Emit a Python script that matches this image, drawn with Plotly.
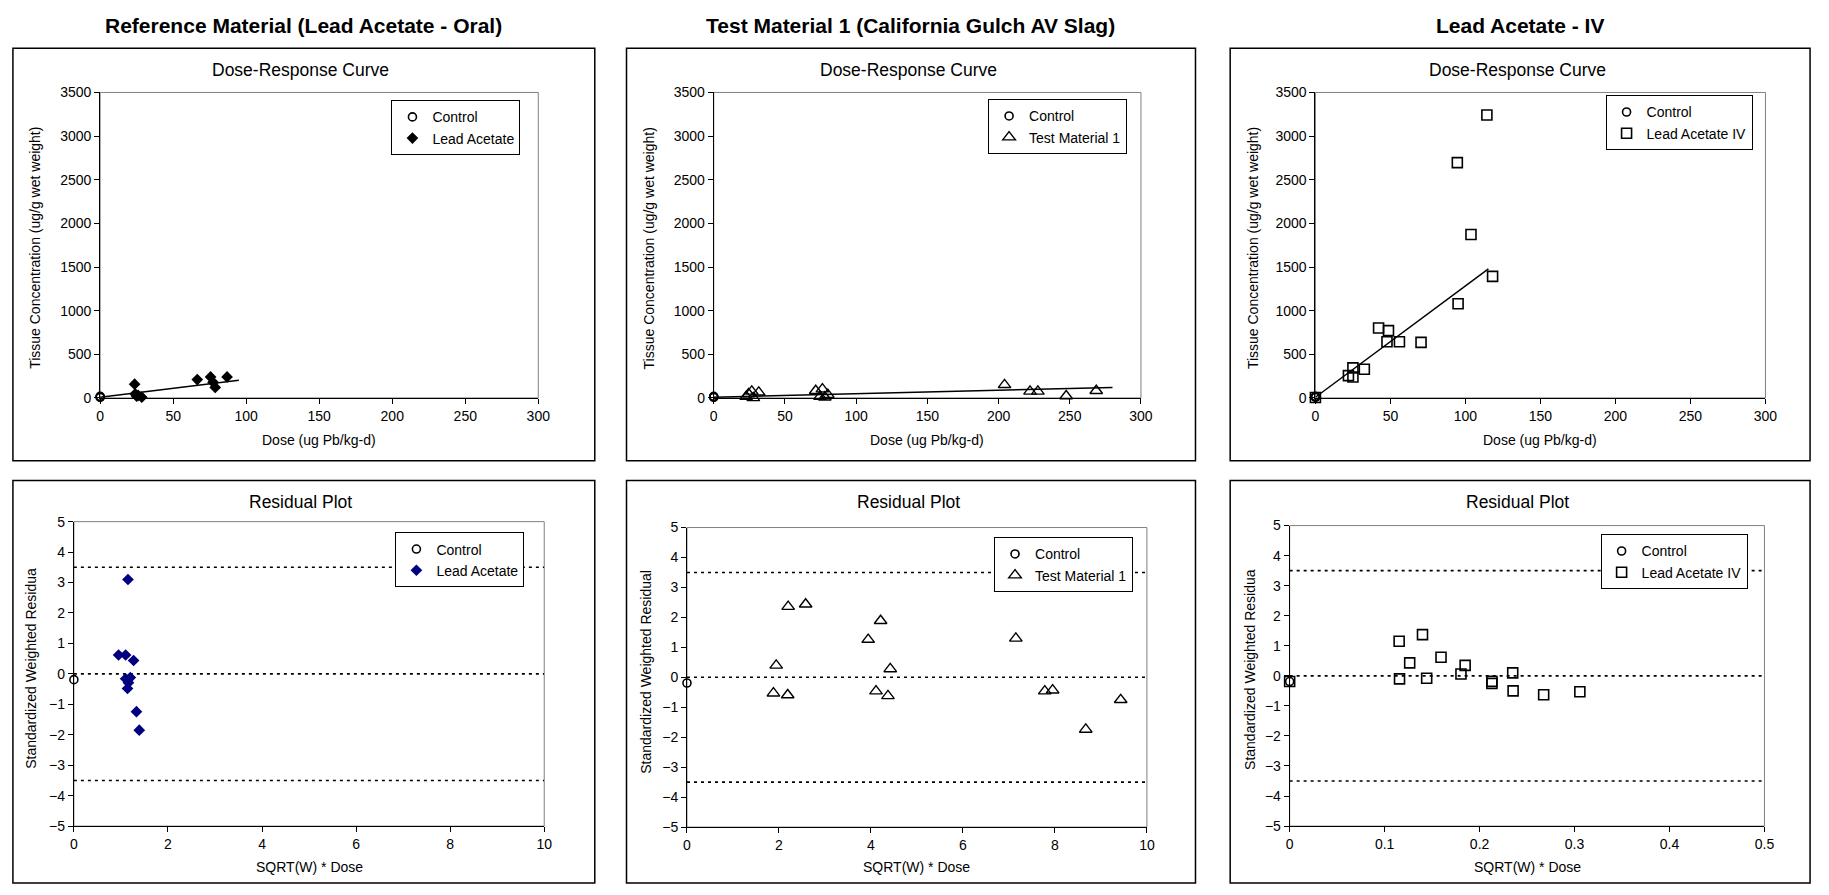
import plotly.graph_objects as go

W, H = 1829, 895
FONT = "Liberation Sans, Arial, sans-serif"

# ---------------- data ----------------
col_titles = ["Reference Material (Lead Acetate - Oral)",
              "Test Material 1 (California Gulch AV Slag)",
              "Lead Acetate - IV"]
series_names = ["Lead Acetate", "Test Material 1", "Lead Acetate IV"]

# Dose-response: controls
ctrl_dose = [0, 0, 0]
ctrl_conc = [5, 12, 18]

# Reference material (oral lead acetate)
oral_dose = [23.6, 24.0, 26.0, 28.5, 25.0, 66.5, 75.6, 77.3, 78.8, 86.9]
oral_conc = [157, 45, 30, 8, 20, 210, 240, 180, 120, 240]
oral_fit_x = [0, 95]
oral_fit_y = [8, 203]

# Test material 1
tm_dose = [22.8, 24.5, 26.7, 27.8, 31.6, 71.6, 74.6, 76.3, 78.0, 80.1,
           204.2, 222.1, 227.6, 247.5, 268.6]
tm_conc = [15, 45, 75, 0, 64, 82, 15, 101, 8, 37, 150, 75, 75, 22, 82]
tm_fit_x = [0, 280]
tm_fit_y = [7.5, 120]

# Lead acetate IV
iv_dose = [0, 22.0, 25.0, 25.0, 32.6, 42.1, 47.7, 48.7, 56.0, 70.4,
           94.6, 95.1, 103.7, 114.3, 118.1]
iv_conc = [5, 255, 240, 344, 329, 801, 644, 771, 644, 636,
           2696, 1078, 1872, 3242, 1393]
iv_fit_x = [0, 115.3]
iv_fit_y = [7.5, 1479]

# Residuals
ctrl_rx = [0]
ctrl_ry = [-0.19]
oral_rx = [1.15, 0.95, 1.10, 1.27, 1.10, 1.20, 1.16, 1.14, 1.33, 1.39]
oral_ry = [3.10, 0.62, 0.62, 0.44, -0.16, -0.12, -0.29, -0.48, -1.24, -1.85]
tm_rx = [2.20, 2.58, 4.21, 3.94, 7.15, 1.94, 4.42, 1.88, 2.19, 4.11,
         4.37, 7.78, 7.95, 8.67, 9.43]
tm_ry = [2.36, 2.44, 1.89, 1.26, 1.30, 0.40, 0.28, -0.53, -0.59, -0.46,
         -0.62, -0.46, -0.43, -1.74, -0.75]
iv_rx = [0, 0.1153, 0.1399, 0.1264, 0.1594, 0.1848, 0.1804, 0.1157, 0.1443,
         0.2349, 0.2130, 0.2130, 0.2353, 0.2675, 0.3056]
iv_ry = [-0.19, 1.15, 1.37, 0.43, 0.62, 0.35, 0.06, -0.10, -0.08,
         0.10, -0.18, -0.25, -0.50, -0.63, -0.53]
ref_levels = [3.5, 0, -3.5]

dose_range = [0, 300]
conc_range = [0, 3500]
resid_range = [-5, 5]
resid_x_ranges = [[0, 10], [0, 10], [0, 0.5]]
resid_x_dticks = [2, 2, 0.1]
resid_ytitles = ["Standardized Weighted Residua",
                 "Standardized Weighted Residual",
                 "Standardized Weighted Residua"]

# ---------------- layout geometry (window pixels) ----------------
top_areas = [(97, 539, 86, 397), (716, 1147, 86, 397), (1323, 1777, 86, 397)]
bot_areas = [(70.5, 545, 523, 833), (689, 1153, 529, 834), (1297, 1776, 527, 833)]
box_x = [(9, 596), (628, 1202), (1237, 1822)]
top_box_y = (41, 461)
bot_box_y = (481, 891)
top_legends = [(521, 94), (1133, 93), (1764, 89)]
bot_legends = [(525, 534), (1139, 539), (1759, 536)]
ytitle_x_top = [31, 651, 1260]
ytitle_x_bot = [27, 648, 1257]


def fx(p):
    return p / W


def fy(p):
    return 1 - p / H


fig = go.Figure()

marker_styles = [
    dict(symbol="diamond", size=9, color="black", line=dict(width=0)),
    dict(symbol="triangle-up-open", size=11, color="black", line=dict(width=1.4)),
    dict(symbol="square-open", size=10, color="black", line=dict(width=1.6)),
]
resid_marker_styles = [
    dict(symbol="diamond", size=9, color="#000080", line=dict(width=0)),
    dict(symbol="triangle-up-open", size=11, color="black", line=dict(width=1.4)),
    dict(symbol="square-open", size=10, color="black", line=dict(width=1.6)),
]
ctrl_marker = dict(symbol="circle-open", size=8, color="black", line=dict(width=1.6))

dr_data = [(oral_dose, oral_conc, oral_fit_x, oral_fit_y),
           (tm_dose, tm_conc, tm_fit_x, tm_fit_y),
           (iv_dose, iv_conc, iv_fit_x, iv_fit_y)]
rs_data = [(oral_rx, oral_ry), (tm_rx, tm_ry), (iv_rx, iv_ry)]


def axname(i):
    return ("x" if i == 1 else f"x{i}"), ("y" if i == 1 else f"y{i}")


def legname(i):
    return "legend" if i == 1 else f"legend{i}"


axis_common = dict(showgrid=False, zeroline=False, showline=True, linecolor="black",
                   linewidth=1, ticks="outside", ticklen=5, tickcolor="black",
                   tickwidth=1, tickfont=dict(family=FONT, size=14, color="black"),
                   fixedrange=True)

shapes = []
annotations = []
layout_axes = {}
legends = {}


def legend_box(lx, ly):
    return dict(x=fx(lx), y=fy(ly), xanchor="right", yanchor="top",
                bgcolor="white", bordercolor="black", borderwidth=1,
                font=dict(family=FONT, size=14, color="black"),
                itemwidth=30, tracegroupgap=0)


def text_ann(text, x, y, size, angle=0):
    return dict(text=text, x=fx(x), y=fy(y), xref="paper", yref="paper",
                showarrow=False, xanchor="center", yanchor="middle", textangle=angle,
                font=dict(family=FONT, size=size, color="black"))


for c in range(3):
    bx0, bx1 = box_x[c]
    # ---------- top: dose-response ----------
    i = c + 1
    xa, ya = axname(i)
    dx, dy, fxs, fys = dr_data[c]
    fig.add_trace(go.Scatter(x=fxs, y=fys, mode="lines", line=dict(color="black", width=1.5),
                             xaxis=xa, yaxis=ya, showlegend=False, hoverinfo="skip"))
    fig.add_trace(go.Scatter(x=ctrl_dose, y=ctrl_conc, mode="markers", marker=ctrl_marker,
                             name="Control", xaxis=xa, yaxis=ya, cliponaxis=False,
                             legend=legname(i)))
    fig.add_trace(go.Scatter(x=dx, y=dy, mode="markers", marker=marker_styles[c],
                             name=series_names[c], xaxis=xa, yaxis=ya, cliponaxis=False,
                             legend=legname(i)))
    x0, x1, y0, y1 = top_areas[c]
    layout_axes["xaxis" + ("" if i == 1 else str(i))] = dict(
        axis_common, domain=[fx(x0), fx(x1)], range=dose_range, anchor=ya,
        tickmode="linear", tick0=0, dtick=50)
    layout_axes["yaxis" + ("" if i == 1 else str(i))] = dict(
        axis_common, domain=[fy(y1), fy(y0)], range=conc_range, anchor=xa,
        tickmode="linear", tick0=0, dtick=500)
    shapes.append(dict(type="rect", xref="paper", yref="paper", x0=fx(x0), x1=fx(x1),
                       y0=fy(y1), y1=fy(y0), line=dict(color="#808080", width=1),
                       layer="below"))
    legends[legname(i)] = legend_box(*top_legends[c])
    annotations.append(text_ann("Dose-Response Curve", (bx0 + bx1) / 2 - 3, 63, 17.5))
    annotations.append(text_ann("Dose (ug Pb/kg-d)", (x0 + x1) / 2, 440, 14))
    annotations.append(text_ann("Tissue Concentration (ug/g wet weight)",
                                ytitle_x_top[c], (y0 + y1) / 2 + 3, 14, -90))
    annotations.append(text_ann("<b>" + col_titles[c] + "</b>", (bx0 + bx1) / 2, 18, 21))
    shapes.append(dict(type="rect", xref="paper", yref="paper",
                       x0=fx(bx0), x1=fx(bx1), y0=fy(top_box_y[1]), y1=fy(top_box_y[0]),
                       line=dict(color="black", width=1.5)))

    # ---------- bottom: residual ----------
    i = c + 4
    xa, ya = axname(i)
    rx, ry = rs_data[c]
    xr = resid_x_ranges[c]
    for lvl in ref_levels:
        fig.add_trace(go.Scatter(x=xr, y=[lvl, lvl], mode="lines",
                                 line=dict(color="black", width=1.6, dash="3px,4px"),
                                 xaxis=xa, yaxis=ya, showlegend=False, hoverinfo="skip"))
    fig.add_trace(go.Scatter(x=ctrl_rx, y=ctrl_ry, mode="markers", marker=ctrl_marker,
                             name="Control", xaxis=xa, yaxis=ya, cliponaxis=False,
                             legend=legname(i)))
    fig.add_trace(go.Scatter(x=rx, y=ry, mode="markers", marker=resid_marker_styles[c],
                             name=series_names[c], xaxis=xa, yaxis=ya, cliponaxis=False,
                             legend=legname(i)))
    x0, x1, y0, y1 = bot_areas[c]
    layout_axes["xaxis" + str(i)] = dict(
        axis_common, domain=[fx(x0), fx(x1)], range=xr, anchor=ya,
        tickmode="linear", tick0=0, dtick=resid_x_dticks[c])
    layout_axes["yaxis" + str(i)] = dict(
        axis_common, domain=[fy(y1), fy(y0)], range=resid_range, anchor=xa,
        tickmode="linear", tick0=-5, dtick=1)
    shapes.append(dict(type="rect", xref="paper", yref="paper", x0=fx(x0), x1=fx(x1),
                       y0=fy(y1), y1=fy(y0), line=dict(color="#808080", width=1),
                       layer="below"))
    legends[legname(i)] = legend_box(*bot_legends[c])
    annotations.append(text_ann("Residual Plot", (bx0 + bx1) / 2 - 3, 503, 17.5))
    annotations.append(text_ann("SQRT(W) * Dose", (x0 + x1) / 2, 875, 14))
    annotations.append(text_ann(resid_ytitles[c], ytitle_x_bot[c], (y0 + y1) / 2 - 6, 14, -90))
    shapes.append(dict(type="rect", xref="paper", yref="paper",
                       x0=fx(bx0), x1=fx(bx1), y0=fy(bot_box_y[1]), y1=fy(bot_box_y[0]),
                       line=dict(color="black", width=1.5)))

fig.update_layout(
    width=W, height=H, autosize=False,
    margin=dict(l=0, r=0, t=0, b=0),
    paper_bgcolor="white", plot_bgcolor="white",
    font=dict(family=FONT, size=14, color="black"),
    shapes=shapes, annotations=annotations,
    showlegend=True,
    **layout_axes, **legends,
)

# the figure fills the whole window: drop the browser's default page margin
fig.write_html("out.html",
               config={"displayModeBar": False, "staticPlot": False},
               post_script="document.body.style.margin='0';"
                           "document.body.style.overflow='hidden';")
